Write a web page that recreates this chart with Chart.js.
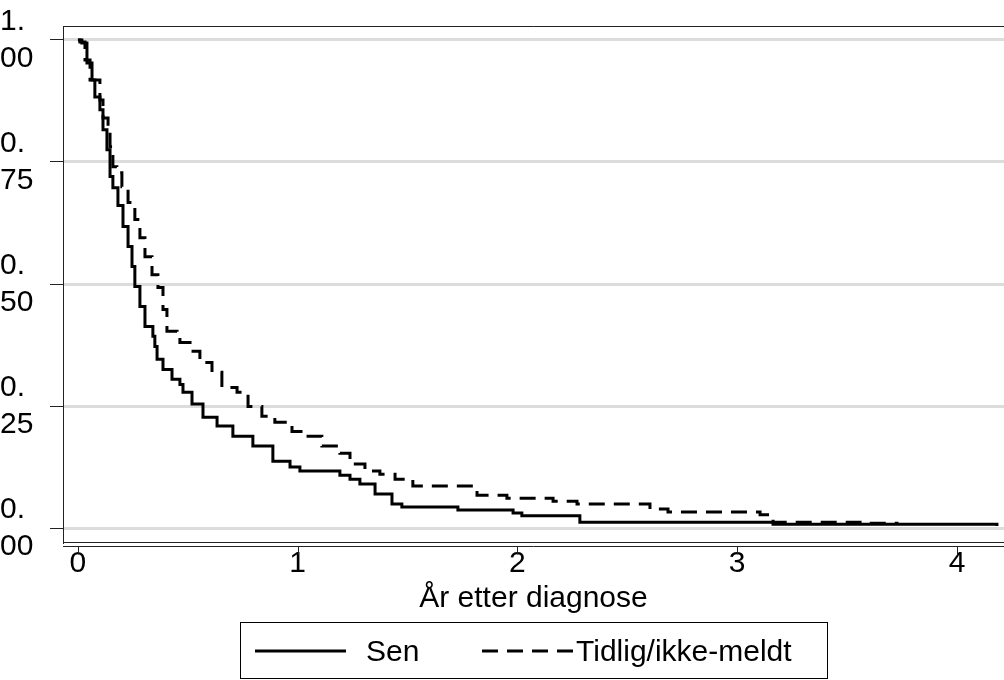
<!DOCTYPE html>
<html>
<head>
<meta charset="utf-8">
<script src="https://cdn.jsdelivr.net/npm/chart.js@4.4.1/dist/chart.umd.min.js"></script>
<style>
  html, body { margin: 0; padding: 0; background: #fff; }
  #wrap { position: relative; width: 1004px; height: 680px; }
  #legend {
    position: absolute; left: 240px; top: 622px; width: 588px; height: 57px;
    border: 1px solid #000; box-sizing: border-box;
    font-family: "Liberation Sans", Arial, sans-serif; font-size: 30px; color: #000;
  }
  #legend .item { position: absolute; top: 0; height: 55px; display: flex; align-items: center; }
  #legend svg { display: block; }
</style>
</head>
<body>
<div id="wrap">
  <canvas id="myChart" width="1004" height="680"></canvas>
  <div id="legend"></div>
</div>
<script>
// Kaplan-Meier: tid i år, andel overlevende
const seriesNames = ["Sen", "Tidlig/ikke-meldt"];

const senTime = [0, 0.018, 0.041, 0.064, 0.077, 0.100, 0.114, 0.132, 0.146, 0.159, 0.182, 0.205, 0.228, 0.246, 0.259, 0.282, 0.305, 0.341, 0.350, 0.360, 0.387, 0.428, 0.464, 0.478, 0.519, 0.569, 0.633, 0.705, 0.796, 0.887, 0.965, 1.010, 1.192, 1.238, 1.283, 1.352, 1.429, 1.474, 1.729, 1.980, 2.020, 2.284, 3.163, 4.182];
const senSurv = [1.000, 0.994, 0.953, 0.918, 0.883, 0.857, 0.816, 0.775, 0.720, 0.697, 0.661, 0.618, 0.577, 0.536, 0.495, 0.454, 0.413, 0.393, 0.372, 0.346, 0.325, 0.305, 0.294, 0.278, 0.254, 0.227, 0.209, 0.188, 0.168, 0.137, 0.125, 0.117, 0.108, 0.100, 0.090, 0.070, 0.049, 0.043, 0.037, 0.031, 0.025, 0.012, 0.008, 0.004];

const tidTime = [0, 0.009, 0.032, 0.055, 0.100, 0.114, 0.137, 0.146, 0.159, 0.177, 0.200, 0.228, 0.259, 0.282, 0.305, 0.337, 0.364, 0.387, 0.405, 0.451, 0.464, 0.510, 0.555, 0.610, 0.655, 0.724, 0.774, 0.837, 0.896, 0.974, 1.047, 1.110, 1.192, 1.238, 1.306, 1.374, 1.443, 1.524, 1.816, 1.952, 2.162, 2.271, 2.603, 2.685, 3.104, 3.163, 3.559, 3.727];
const tidSurv = [1.000, 0.996, 0.959, 0.918, 0.877, 0.840, 0.816, 0.781, 0.740, 0.728, 0.699, 0.667, 0.632, 0.595, 0.556, 0.519, 0.493, 0.448, 0.403, 0.391, 0.380, 0.362, 0.339, 0.319, 0.288, 0.278, 0.249, 0.229, 0.217, 0.198, 0.188, 0.168, 0.153, 0.131, 0.117, 0.110, 0.100, 0.086, 0.067, 0.061, 0.055, 0.049, 0.039, 0.033, 0.027, 0.012, 0.010, 0.008];

const xTicks = [0, 1, 2, 3, 4];
const yTicks = [0, 0.25, 0.5, 0.75, 1];
const yTickLabels = [["0.", "00"], ["0.", "25"], ["0.", "50"], ["0.", "75"], ["1.", "00"]];
const xTitle = "År etter diagnose";

const FONT = "'Liberation Sans', Arial, sans-serif";
const DASH = [16, 9];

function toPoints(t, s) {
  return t.map((v, i) => ({ x: v, y: s[i] }));
}

// ramme rundt plottet + ekstra x-akse litt under
const framePlugin = {
  id: "frame",
  afterDraw(chart) {
    const a = chart.chartArea;
    const ctx = chart.ctx;
    const xs = chart.scales.x;
    ctx.save();
    ctx.strokeStyle = "#222";
    ctx.lineWidth = 1;
    ctx.beginPath();
    ctx.moveTo(a.left + 0.5, a.bottom);
    ctx.lineTo(a.left + 0.5, a.top + 0.5);
    ctx.lineTo(a.right, a.top + 0.5);
    ctx.stroke();
    let yb = Math.round(a.bottom) + 4.5;
    ctx.beginPath();
    ctx.moveTo(a.left, yb);
    ctx.lineTo(a.right, yb);
    xTicks.forEach(v => {
      const px = Math.round(xs.getPixelForValue(v)) + 0.5;
      ctx.moveTo(px, yb);
      ctx.lineTo(px, yb + 8);
    });
    ctx.stroke();
    ctx.restore();
  }
};

let ctx = document.getElementById("myChart").getContext("2d");
let myChart = new Chart(ctx, {
  type: "line",
  data: {
    datasets: [
      {
        label: seriesNames[0],
        data: toPoints(senTime, senSurv),
        borderColor: "#000",
        borderWidth: 3,
        stepped: "before",
        pointRadius: 0,
        fill: false
      },
      {
        label: seriesNames[1],
        data: toPoints(tidTime, tidSurv),
        borderColor: "#000",
        borderWidth: 3,
        borderDash: DASH,
        stepped: "before",
        pointRadius: 0,
        fill: false
      }
    ]
  },
  options: {
    responsive: false,
    animation: false,
    devicePixelRatio: 1,
    layout: { padding: { top: 26, right: 0, left: 0, bottom: 63 } },
    plugins: { legend: { display: false }, tooltip: { enabled: false } },
    scales: {
      x: {
        type: "linear",
        min: -0.068,
        max: 4.214,
        afterBuildTicks: s => { s.ticks = xTicks.map(v => ({ value: v })); },
        afterFit: s => { s.height = 75; s.paddingLeft = 0; s.paddingRight = 0; },
        grid: { display: true, drawOnChartArea: false, drawTicks: false },
        border: { display: true, color: "#222", width: 1 },
        ticks: {
          color: "#000",
          padding: 4,
          maxRotation: 0,
          font: { family: FONT, size: 30 },
          callback: v => String(v)
        },
        title: {
          display: true,
          text: xTitle,
          color: "#000",
          font: { family: FONT, size: 30 },
          padding: { top: 0, bottom: 0 }
        }
      },
      y: {
        type: "linear",
        min: -0.0286,
        max: 1.0286,
        afterBuildTicks: s => { s.ticks = yTicks.map(v => ({ value: v })); },
        afterFit: s => { s.width = 63; s.paddingTop = 0; s.paddingBottom = 0; },
        grid: {
          color: "#dcdcdc",
          lineWidth: 3,
          drawTicks: true,
          tickLength: 13,
          tickColor: "#222",
          tickWidth: 1
        },
        border: { display: true, color: "#222", width: 1 },
        ticks: {
          color: "#000",
          crossAlign: "far",
          padding: 0,
          font: { family: FONT, size: 30, lineHeight: 1.22 },
          callback: v => {
            const i = yTicks.indexOf(v);
            return i >= 0 ? yTickLabels[i] : "";
          }
        }
      }
    }
  },
  plugins: [framePlugin]
});

// legende i en boks under plottet
function legendLine(dash) {
  const w = 91;
  return '<svg width="' + w + '" height="10"><line x1="0" y1="5" x2="' + w + '" y2="5" stroke="#000" stroke-width="3"' +
    (dash ? ' stroke-dasharray="' + DASH.join(" ") + '"' : '') + '/></svg>';
}
let legend = document.getElementById("legend");
legend.innerHTML =
  '<div class="item" style="left:14px">' + legendLine(false) + '<span style="margin-left:20px">' + seriesNames[0] + '</span></div>' +
  '<div class="item" style="left:241px">' + legendLine(true) + '<span style="margin-left:3px">' + seriesNames[1] + '</span></div>';
</script>
</body>
</html>
